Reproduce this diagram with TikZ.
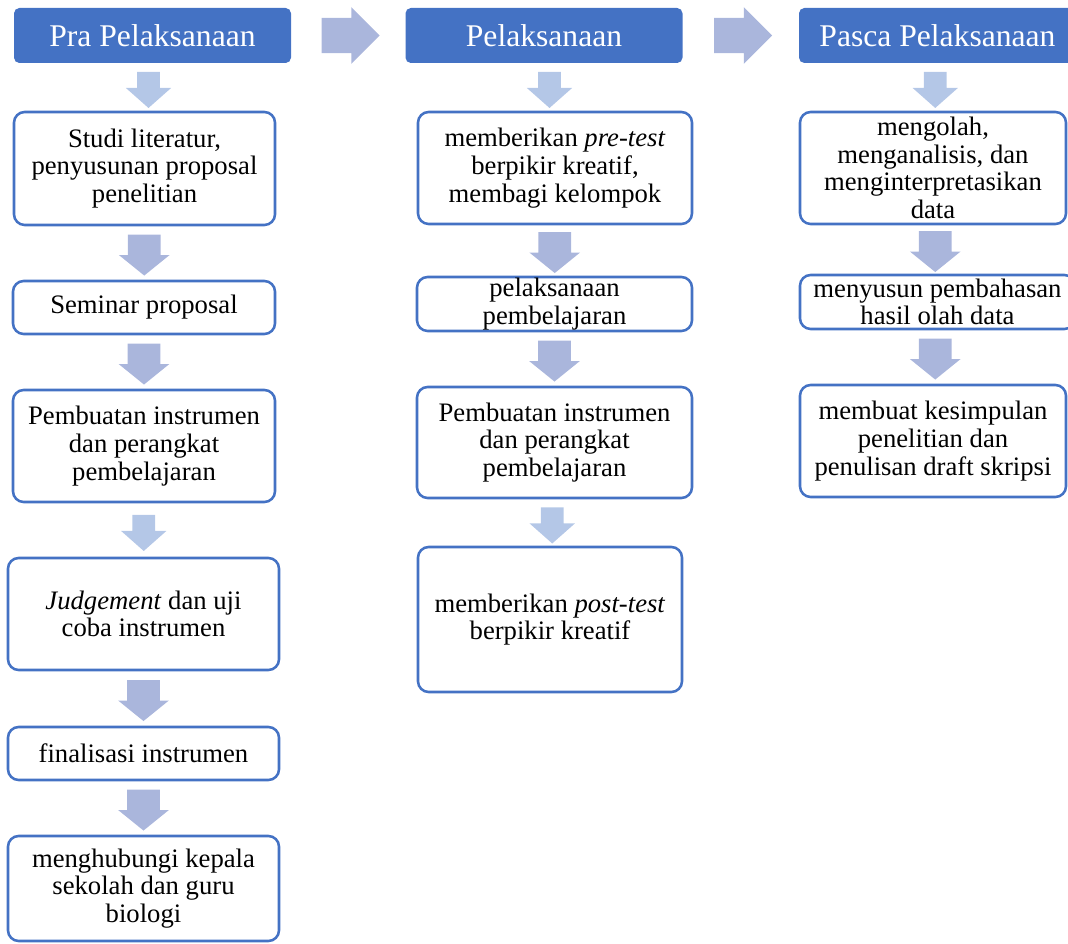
\documentclass[tikz,border=0pt]{standalone}
\usepackage{fontspec}
\setmainfont{Liberation Serif}
\usepackage{tikz}
\usetikzlibrary{shapes,               % formes de base
           shapes.arrows,             % fleches pleines
           calc,                      % milieux entre noeuds $ $
           positioning}
\definecolor{bleu}{RGB}{68,114,196}
\definecolor{clair}{RGB}{180,199,231}
\definecolor{lav}{RGB}{170,182,220}
\tikzset{
  entete/.style={fill=bleu,rounded corners=4pt,text=white,inner sep=0pt,
    font=\fontsize{23.7}{26}\selectfont,minimum width=207.75pt,minimum height=41.25pt},
  kotak/.style={draw=bleu,line width=1.9pt,rounded corners=8pt,fill=white,align=center,
    inner sep=0pt,font=\fontsize{20}{20.8}\selectfont},
  panah/.style={single arrow,fill=lav,inner xsep=0pt,inner ysep=12pt,yshift=3.4pt,rotate=-90,
    minimum height=30.75pt,single arrow head extend=6.75pt,single arrow tip angle=102},
  panahc/.style={single arrow,fill=clair,inner xsep=0pt,inner ysep=8.25pt,yshift=1.5pt,rotate=-90,
    minimum height=27pt,single arrow head extend=8.6pt,single arrow tip angle=97},
  panahk/.style={single arrow,fill=lav,inner xsep=0pt,inner ysep=13.1pt,xshift=-4.9pt,
    minimum height=43.5pt,single arrow head extend=7.9pt,single arrow tip angle=90}
}

\begin{document}
\begin{tikzpicture}[x=0.75pt,y=-0.75pt]
\clip(0,0)rectangle(1068,944);
\node[entete](pra)at(152.5,35.5){Pra Pelaksanaan};
\node[entete](plk)at(544,35.5){Pelaksanaan};
\node[entete](pasca)at(937.5,35.5){Pasca Pelaksanaan};
\node[panahk](k1)at($(pra.east)!0.5!(plk.west)$){};
\node[panahk](k2)at($(plk.east)!0.5!(pasca.west)$){};

\node[kotak,minimum width=195.75pt,minimum height=84.75pt](studi)at(144.5,168.5){Studi literatur,\\penyusunan proposal\\penelitian};
\node[kotak,minimum width=196.5pt,minimum height=39.75pt](sem)at(144,307.5){Seminar proposal};
\node[kotak,minimum width=196.5pt,minimum height=84pt](buat1)at(144,446){Pembuatan instrumen\\dan perangkat\\pembelajaran};
\node[kotak,minimum width=203.25pt,minimum height=84pt](judge)at(143.5,614){\textit{Judgement} dan uji\\coba instrumen};
\node[kotak,minimum width=203.25pt,minimum height=39.75pt](final)at(143.5,753.5){finalisasi instrumen};
\node[kotak,minimum width=203.25pt,minimum height=78.75pt](hub)at(143.5,888.5){menghubungi kepala\\sekolah dan guru\\biologi};

\node[kotak,minimum width=205.5pt,minimum height=84pt](pre)at(555,168){memberikan \textit{pre-test}\\berpikir kreatif,\\membagi kelompok};
\node[kotak,minimum width=206.25pt,minimum height=40.5pt](lks)at(554.5,304){pelaksanaan\\pembelajaran};
\node[kotak,minimum width=206.25pt,minimum height=83.25pt](buat2)at(554.5,442.5){Pembuatan instrumen\\dan perangkat\\pembelajaran};
\node[kotak,minimum width=198pt,minimum height=108.75pt](post)at(550,619.5){memberikan \textit{post-test}\\berpikir kreatif};

\node[kotak,minimum width=199.5pt,minimum height=84pt](olah)at(933,168){mengolah,\\menganalisis, dan\\menginterpretasikan\\data};
\node[kotak,minimum width=206.25pt,minimum height=40.5pt](susun)at(937.5,302){menyusun pembahasan\\hasil olah data};
\node[kotak,minimum width=199.5pt,minimum height=84pt](simpul)at(933,441){membuat kesimpulan\\penelitian dan\\penulisan draft skripsi};

\node[panahc](a1)at($(pra.south)!0.5!(studi.north)$){};
\node[panah](a2)at($(studi.south)!0.5!(sem.north)$){};
\node[panah](a3)at($(sem.south)!0.5!(buat1.north)$){};
\node[panahc](a4)at($(buat1.south)!0.5!(judge.north)$){};
\node[panah](a5)at($(judge.south)!0.5!(final.north)$){};
\node[panah](a6)at($(final.south)!0.5!(hub.north)$){};

\node[panahc](b1)at($(plk.south)!0.5!(pre.north)$){};
\node[panah](b2)at($(pre.south)!0.5!(lks.north)$){};
\node[panah](b3)at($(lks.south)!0.5!(buat2.north)$){};
\node[panahc](b4)at($(buat2.south)!0.5!(post.north)$){};

\node[panahc](c1)at($(pasca.south)!0.5!(olah.north)$){};
\node[panah](c2)at($(olah.south)!0.5!(susun.north)$){};
\node[panah](c3)at($(susun.south)!0.5!(simpul.north)$){};
\end{tikzpicture}
\end{document}
